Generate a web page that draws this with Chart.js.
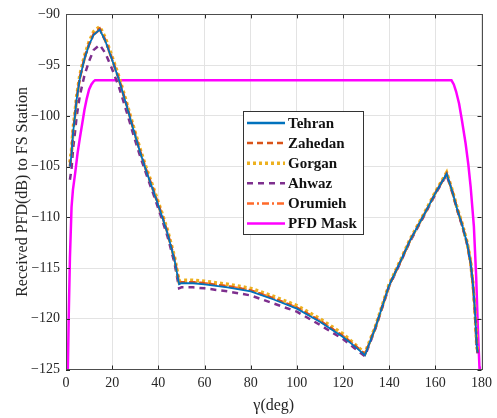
<!DOCTYPE html>
<html>
<head>
<meta charset="utf-8">
<script src="https://cdn.jsdelivr.net/npm/chart.js@4/dist/chart.umd.min.js"></script>
<style>
  html, body { margin: 0; padding: 0; background: #ffffff; }
  #wrap { width: 497px; height: 418px; position: relative; }
</style>
</head>
<body>
<div id="wrap"><canvas id="c" width="497" height="418"></canvas></div>
<script>
// ---- data ----
const gamma = [1.7, 2.4, 3.1, 3.9, 4.6, 6, 8, 10, 12, 14.6, 17, 20, 23, 26, 29, 32, 35, 38, 41, 44, 47, 49, 50, 55, 60, 70, 80, 90, 100, 110, 120, 125, 129.5, 134, 140, 145, 149, 155, 160.3, 164.9, 167.4, 169.6, 171.7, 173.9, 175.3, 176.3, 177.1, 177.9, 178.3];

const tehran = [-105.0,-103.8,-101.6,-100.0,-98.4, -96.3,-94.4,-93.0,-92.0,-91.5, -92.6,-94.5,-96.5,-98.8,-101.2, -103.5,-105.6,-107.5,-109.5,-111.6, -114.2,-116.6,-116.5,-116.5,-116.6, -116.9,-117.3,-118.1,-119.0,-120.3, -121.8,-122.7,-123.6,-120.9,-116.7, -114.3,-112.3,-109.8,-107.5,-105.7, -107.5,-109.3,-110.8,-112.7,-114.5, -116.6,-119.0,-122.5,-123.3];

const zahedan = [-104.9,-103.7,-101.5,-99.9,-98.3, -96.2,-94.3,-92.9,-91.9,-91.4, -92.5,-94.4,-96.4,-98.7,-101.1, -103.4,-105.5,-107.4,-109.4,-111.5, -114.1,-116.5,-116.4,-116.4,-116.5, -116.8,-117.2,-118.0,-118.9,-120.2, -121.7,-122.6,-123.5,-120.9,-116.7, -114.3,-112.3,-109.8,-107.5,-105.7, -107.5,-109.3,-110.8,-112.7,-114.5, -116.6,-119.0,-122.5,-123.3];

const gorgan = [-104.6,-103.4,-101.2,-99.7,-98.1, -96.0,-94.1,-92.7,-91.7,-91.2, -92.3,-94.2,-96.2,-98.5,-100.9, -103.2,-105.3,-107.2,-109.2,-111.3, -113.9,-116.3,-116.2,-116.2,-116.3, -116.6,-117.0,-117.8,-118.7,-120.0, -121.5,-122.5,-123.4,-120.8,-116.6, -114.2,-112.2,-109.7,-107.4,-105.6, -107.4,-109.2,-110.7,-112.6,-114.4, -116.5,-118.9,-122.4,-123.2];

const ahwaz = [-106.3,-105.2,-103.2,-101.6,-100.1, -98.0,-96.0,-94.6,-93.5,-93.0, -93.8,-95.4,-97.2,-99.4,-101.7, -103.9,-105.9,-107.8,-109.8,-111.9, -114.5,-117.0,-116.9,-116.9,-117.0, -117.3,-117.7,-118.5,-119.3,-120.6, -122.0,-122.9,-123.7,-121.0,-116.8, -114.4,-112.4,-109.9,-107.6,-105.8, -107.6,-109.4,-110.9,-112.8,-114.6, -116.7,-119.1,-122.6,-123.4];

const orumieh = [-105.0,-103.8,-101.6,-100.0,-98.4, -96.3,-94.4,-93.0,-92.0,-91.5, -92.6,-94.5,-96.5,-98.8,-101.2, -103.5,-105.6,-107.5,-109.5,-111.6, -114.2,-116.5,-116.4,-116.4,-116.5, -116.8,-117.2,-118.0,-118.9,-120.2, -121.7,-122.6,-123.5,-120.9,-116.7, -114.3,-112.3,-109.8,-107.5,-105.7, -107.5,-109.3,-110.8,-112.7,-114.5, -116.6,-119.0,-122.5,-123.3];

const gammaMask = [0.8, 1.2, 1.7, 2.4, 3, 4, 5, 6, 7, 8, 9, 10, 11, 12, 12.6, 167, 168, 169, 170.3, 171.5, 173.1, 174.3, 175.3, 176.7, 177.7, 178.4, 179.1, 179.3];
const pfdMask = [-125, -119.5, -114, -109, -107.3, -105.6, -103.7, -102.2, -100.8, -99.4, -98.3, -97.4, -96.9, -96.6, -96.5, -96.5, -96.9, -97.6, -98.8, -100.4, -102.7, -104.8, -107.0, -110.9, -115.9, -120.8, -124.7, -125.5];

const seriesNames = ['Tehran', 'Zahedan', 'Gorgan', 'Ahwaz', 'Orumieh', 'PFD Mask'];
const xTicks = [0, 20, 40, 60, 80, 100, 120, 140, 160, 180];
const yTicks = [-125, -120, -115, -110, -105, -100, -95, -90];
const xTitle = '\u03B3(deg)';
const yTitle = 'Received PFD(dB) to FS Station';

// ---- helpers ----
function pts(xs, ys) { return xs.map((x, i) => ({ x: x, y: ys[i] })); }

const SERIF = "'Liberation Serif', 'Times New Roman', serif";
const AXIS_COLOR = '#262626';

const datasets = [
  { label: seriesNames[0], data: pts(gamma, tehran),  borderColor: '#0072BD', borderWidth: 1.8, borderDash: [] },
  { label: seriesNames[1], data: pts(gamma, zahedan), borderColor: '#D95319', borderWidth: 2.5, borderDash: [6, 4] },
  { label: seriesNames[2], data: pts(gamma, gorgan),  borderColor: '#EDB120', borderWidth: 3.5, borderDash: [3, 3] },
  { label: seriesNames[3], data: pts(gamma, ahwaz),   borderColor: '#7E2F8E', borderWidth: 2.5, borderDash: [6, 5] },
  { label: seriesNames[4], data: pts(gamma, orumieh), borderColor: '#FF6A2A', borderWidth: 2.5, borderDash: [7, 3, 2, 3] },
  { label: seriesNames[5], data: pts(gammaMask, pfdMask), borderColor: '#FF00FF', borderWidth: 2.5, borderDash: [] }
].map(d => Object.assign(d, { pointRadius: 0, fill: false, tension: 0, borderCapStyle: 'butt' }));

// frame, inner tick marks and in-plot legend
const framePlugin = {
  id: 'frameAndLegend',
  afterDatasetsDraw(chart) {
    const { ctx, chartArea: a, scales } = chart;
    ctx.save();
    // inner ticks
    ctx.strokeStyle = AXIS_COLOR;
    ctx.lineWidth = 1;
    const tl = 4;
    ctx.beginPath();
    scales.x.ticks.forEach(t => {
      const px = Math.round(scales.x.getPixelForValue(t.value)) + 0.5;
      ctx.moveTo(px, a.bottom); ctx.lineTo(px, a.bottom - tl);
      ctx.moveTo(px, a.top); ctx.lineTo(px, a.top + tl);
    });
    scales.y.ticks.forEach(t => {
      const py = Math.round(scales.y.getPixelForValue(t.value)) + 0.5;
      ctx.moveTo(a.left, py); ctx.lineTo(a.left + tl, py);
      ctx.moveTo(a.right, py); ctx.lineTo(a.right - tl, py);
    });
    ctx.stroke();
    // frame
    ctx.strokeStyle = '#4d4d4d';
    ctx.lineWidth = 1;
    ctx.strokeRect(Math.round(a.left) + 0.5, Math.round(a.top) + 0.5,
                   Math.round(a.right - a.left), Math.round(a.bottom - a.top));

    // legend
    const bx = 243.5, by = 111.5, bw = 120, bh = 123;
    ctx.fillStyle = '#ffffff';
    ctx.fillRect(bx, by, bw, bh);
    ctx.strokeStyle = '#333333';
    ctx.lineWidth = 1;
    ctx.strokeRect(bx, by, bw, bh);
    ctx.font = "bold 15px " + SERIF;
    ctx.textBaseline = 'middle';
    ctx.textAlign = 'left';
    chart.data.datasets.forEach((d, i) => {
      const cy = by + 11.5 + i * 20.1;
      ctx.save();
      ctx.strokeStyle = d.borderColor;
      ctx.lineWidth = Math.max(d.borderWidth, 2.5);
      ctx.setLineDash(d.borderDash || []);
      ctx.beginPath();
      ctx.moveTo(247, cy); ctx.lineTo(285, cy);
      ctx.stroke();
      ctx.restore();
      ctx.fillStyle = '#111111';
      ctx.fillText(d.label, 288, cy + 1);
    });
    ctx.restore();
  }
};

new Chart(document.getElementById('c'), {
  type: 'line',
  data: { datasets: datasets },
  plugins: [framePlugin],
  options: {
    responsive: false,
    animation: false,
    devicePixelRatio: 1,
    layout: { padding: { left: 0, right: 11, top: 14, bottom: 0 } },
    plugins: { legend: { display: false }, tooltip: { enabled: false } },
    scales: {
      x: {
        type: 'linear', min: 0, max: 180,
        afterBuildTicks: s => { s.ticks = xTicks.map(v => ({ value: v })); },
        afterFit: s => { s.height = 48.5; },
        ticks: { color: AXIS_COLOR, font: { family: SERIF, size: 14 }, padding: 5, maxRotation: 0 },
        grid: { color: '#e3e3e3', lineWidth: 1, drawTicks: false },
        border: { display: false },
        title: { display: true, text: xTitle, color: AXIS_COLOR, font: { family: SERIF, size: 16 }, padding: { top: 0, bottom: 3 } }
      },
      y: {
        type: 'linear', min: -125, max: -90,
        afterBuildTicks: s => { s.ticks = yTicks.map(v => ({ value: v })); },
        afterFit: s => { s.width = 66; },
        ticks: {
          color: AXIS_COLOR, font: { family: SERIF, size: 14 }, padding: 6,
          callback: v => String(v).replace('-', '\u2212')
        },
        grid: { color: '#e3e3e3', lineWidth: 1, drawTicks: false },
        border: { display: false },
        title: { display: true, text: yTitle, color: AXIS_COLOR, font: { family: SERIF, size: 16 }, padding: { top: 13, bottom: 0 } }
      }
    }
  }
});
</script>
</body>
</html>
